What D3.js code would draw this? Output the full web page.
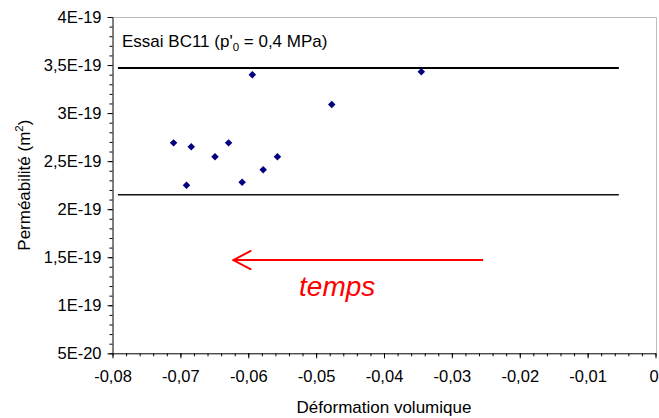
<!DOCTYPE html>
<html>
<head>
<meta charset="utf-8">
<script src="https://cdn.jsdelivr.net/npm/d3@7"></script>
<style>
  html, body { margin: 0; padding: 0; background: #fff; }
  svg { display: block; font-family: "Liberation Sans", Arial, sans-serif; }
</style>
</head>
<body>
<svg id="chart" width="659" height="418"></svg>
<script>
// ---- data ----
const deformation = [-0.0710, -0.0684, -0.0691, -0.0649, -0.0629, -0.0609, -0.0594, -0.0578, -0.0557, -0.0477, -0.0345];
const permeabilite = [2.69e-19, 2.65e-19, 2.25e-19, 2.545e-19, 2.69e-19, 2.28e-19, 3.40e-19, 2.41e-19, 2.545e-19, 3.09e-19, 3.43e-19];

const boundX = [-0.0792, -0.0054];
const upperBound = [3.47e-19, 3.47e-19];
const lowerBound = [2.15e-19, 2.15e-19];

const xTicks = [-0.08, -0.07, -0.06, -0.05, -0.04, -0.03, -0.02, -0.01, 0];
const xTickLabels = ["-0,08", "-0,07", "-0,06", "-0,05", "-0,04", "-0,03", "-0,02", "-0,01", "0"];
const yTicks = [0.5e-19, 1e-19, 1.5e-19, 2e-19, 2.5e-19, 3e-19, 3.5e-19, 4e-19];
const yTickLabels = ["5E-20", "1E-19", "1,5E-19", "2E-19", "2,5E-19", "3E-19", "3,5E-19", "4E-19"];

const arrowX = [-0.0254, -0.0622];
const arrowY = [1.47e-19, 1.47e-19];
const arrowLabel = "temps";
const arrowLabelPos = [-0.0469, 1.10e-19];

// ---- layout ----
const svg = d3.select("#chart");
const mLeft = 112.5, mRight = 655.5, mTop = 17, mBottom = 353.3;

const x = d3.scaleLinear().domain([-0.08, 0]).range([mLeft, mRight]);
const y = d3.scaleLinear().domain([0.5e-19, 4e-19]).range([mBottom, mTop]);

// plot area border (top & right)
svg.append("path")
  .attr("d", `M${mLeft},${mTop + 0.5}H${mRight + 1}V${mBottom}`)
  .attr("fill", "none").attr("stroke", "#bdbdbd").attr("stroke-width", 1);

// minor ticks
const xMinor = d3.range(0, 41).map(i => -0.08 + i * 0.002);
const yMinor = d3.range(0, 36).map(i => 0.5e-19 + i * 0.1e-19);

svg.append("g")
  .attr("transform", `translate(0,${mBottom})`)
  .call(d3.axisBottom(x).tickValues(xMinor).tickSize(3).tickFormat(""))
  .call(g => g.select(".domain").remove());
svg.append("g")
  .attr("transform", `translate(${mLeft},0)`)
  .call(d3.axisLeft(y).tickValues(yMinor).tickSize(3).tickFormat(""))
  .call(g => g.select(".domain").remove());

// major axes
const xAxis = svg.append("g")
  .attr("transform", `translate(0,${mBottom})`)
  .call(d3.axisBottom(x).tickValues(xTicks).tickSize(5).tickSizeOuter(0)
    .tickFormat((d, i) => xTickLabels[i]));
xAxis.selectAll("text").attr("font-size", 16.5).attr("fill", "#000")
  .attr("font-family", "Liberation Sans, Arial, sans-serif").attr("dy", "1.25em")
  .attr("dx", (d, i) => i === xTicks.length - 1 ? -2 : 0);

const yAxis = svg.append("g")
  .attr("transform", `translate(${mLeft},0)`)
  .call(d3.axisLeft(y).tickValues(yTicks).tickSize(5).tickSizeOuter(0)
    .tickFormat((d, i) => yTickLabels[i]));
yAxis.selectAll("text").attr("font-size", 16.5).attr("fill", "#000")
  .attr("font-family", "Liberation Sans, Arial, sans-serif").attr("x", -11);

svg.selectAll(".domain").attr("stroke", "#000");
svg.selectAll(".tick line").attr("stroke", "#000");

// bound lines
const line = d3.line().x(d => x(d[0])).y(d => y(d[1]));
svg.append("path")
  .attr("d", line(boundX.map((v, i) => [v, upperBound[i]])))
  .attr("stroke", "#000").attr("stroke-width", 2).attr("fill", "none");
svg.append("path")
  .attr("d", line(boundX.map((v, i) => [v, lowerBound[i]])))
  .attr("stroke", "#111").attr("stroke-width", 1.5).attr("fill", "none");

// points
const sym = d3.symbol().type(d3.symbolSquare).size(28);
svg.append("g").selectAll("path")
  .data(deformation.map((d, i) => [d, permeabilite[i]]))
  .join("path")
  .attr("d", sym)
  .attr("transform", d => `translate(${x(d[0])},${y(d[1])}) rotate(45)`)
  .attr("fill", "#000080");

// legend text
const leg = svg.append("text")
  .attr("x", 122).attr("y", 47)
  .attr("font-size", 17).attr("fill", "#000");
leg.append("tspan").text("Essai BC11 (p'");
leg.append("tspan").attr("font-size", 11.5).attr("dy", 4).text("0");
leg.append("tspan").attr("dy", -4).text(" = 0,4 MPa)");

// arrow
const defs = svg.append("defs");
defs.append("marker")
  .attr("id", "arrowhead")
  .attr("viewBox", "0 0 20 20")
  .attr("refX", 19).attr("refY", 10)
  .attr("markerUnits", "userSpaceOnUse")
  .attr("markerWidth", 20).attr("markerHeight", 20)
  .attr("orient", "auto")
  .append("path")
  .attr("d", "M1,0.5 L19,10 L1,19.5")
  .attr("fill", "none").attr("stroke", "#ff0000").attr("stroke-width", 2);

svg.append("line")
  .attr("x1", x(arrowX[0])).attr("y1", y(arrowY[0]))
  .attr("x2", x(arrowX[1])).attr("y2", y(arrowY[1]))
  .attr("stroke", "#ff0000").attr("stroke-width", 2)
  .attr("marker-end", "url(#arrowhead)");

svg.append("text")
  .attr("x", x(arrowLabelPos[0])).attr("y", y(arrowLabelPos[1]))
  .attr("text-anchor", "middle")
  .attr("font-size", 28).attr("font-style", "italic")
  .attr("fill", "#ff0000").text(arrowLabel);

// axis titles
svg.append("text")
  .attr("x", (mLeft + mRight) / 2).attr("y", 413)
  .attr("text-anchor", "middle").attr("font-size", 17).attr("fill", "#000")
  .text("Déformation volumique");

const yt = svg.append("text")
  .attr("transform", `translate(30,${(mTop + mBottom) / 2}) rotate(-90)`)
  .attr("text-anchor", "middle").attr("font-size", 17).attr("fill", "#000");
yt.append("tspan").text("Perméabilité (m");
yt.append("tspan").attr("font-size", 11.5).attr("dy", -7).text("2");
yt.append("tspan").attr("dy", 7).text(")");
</script>
</body>
</html>
